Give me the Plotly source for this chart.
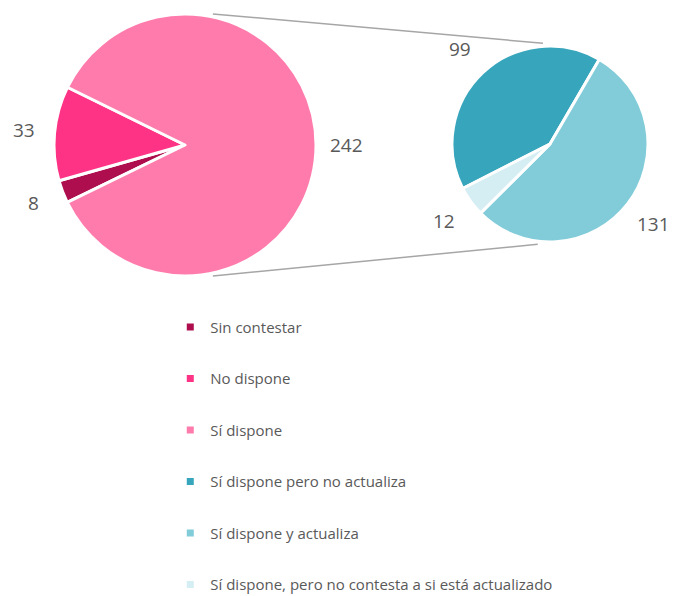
import math
import plotly.graph_objects as go

# ── Data ─────────────────────────────────────────────────────────────────────
main_labels = ["Sin contestar", "No dispone", "Sí dispone"]
main_values = [8, 33, 242]
main_colors = ["#AE0E4E", "#FF3385", "#FF7BAC"]

sub_labels = ["Sí dispone pero no actualiza", "Sí dispone y actualiza",
              "Sí dispone, pero no contesta a si está actualizado"]
sub_values = [99, 131, 12]
sub_colors = ["#37A6BC", "#82CCDA", "#D5EEF3"]

# ── Layout tokens ────────────────────────────────────────────────────────────
PAGE_W, PAGE_H = 675, 596
PAD = 8                      # page body margin around the plot div
W, H = PAGE_W - PAD, PAGE_H - PAD
FONT = "Open Sans, Liberation Sans, sans-serif"
LABEL_COLOR = "#595959"
LINE_COLOR = "#A6A6A6"

# pie placement in page pixels (cx, cy from top-left, radius)
LEFT = (185, 145, 131)
RIGHT = (550, 144, 98)
LEFT_ROT = 244      # clockwise from 12 o'clock
RIGHT_ROT = -117
LABEL_GAP = {"left": 31, "right": 33}


def to_paper(px, py):
    return (px - PAD) / W, 1 - (py - PAD) / H


def domain(cx, cy, r):
    x0, y1 = to_paper(cx - r, cy - r)
    x1, y0 = to_paper(cx + r, cy + r)
    return dict(x=[x0, x1], y=[y0, y1])


def rim(pie, ang, extra=0):
    cx, cy, r = pie
    a = math.radians(ang)
    return to_paper(cx + (r + extra) * math.cos(a), cy - (r + extra) * math.sin(a))


def value_labels(values, rot, pie, gap):
    """Value labels placed outside each slice along its mid-angle."""
    total = sum(values)
    out, cum = [], 0
    for v in values:
        phi = rot + (cum + v / 2) / total * 360
        x, y = rim(pie, 90 - phi, gap)
        out.append(dict(x=x, y=y, xref="paper", yref="paper", text=str(v),
                        showarrow=False, xanchor="center", yanchor="middle",
                        font=dict(size=19, color=LABEL_COLOR, family=FONT)))
        cum += v
    return out


fig = go.Figure()

fig.add_trace(go.Pie(
    labels=main_labels, values=main_values, sort=False,
    direction="clockwise", rotation=LEFT_ROT,
    marker=dict(colors=main_colors, line=dict(color="white", width=3)),
    textinfo="none", domain=domain(*LEFT), showlegend=False,
))

fig.add_trace(go.Pie(
    labels=sub_labels, values=sub_values, sort=False,
    direction="clockwise", rotation=RIGHT_ROT,
    marker=dict(colors=sub_colors, line=dict(color="white", width=3)),
    textinfo="none", domain=domain(*RIGHT), showlegend=False,
))

# legend entries (one group each so the rows can be spaced out)
for lab, col in zip(main_labels + sub_labels, main_colors + sub_colors):
    fig.add_trace(go.Scatter(
        x=[None], y=[None], mode="markers", name=lab, legendgroup=lab,
        marker=dict(symbol="square", size=7, color=col),
    ))

# connector lines between the two pies
shapes = []
for a_left, a_right in [(78, 94), (-78, -97)]:
    x0, y0 = rim(LEFT, a_left, 3)
    x1, y1 = rim(RIGHT, a_right, 3)
    shapes.append(dict(type="line", xref="paper", yref="paper",
                       x0=x0, y0=y0, x1=x1, y1=y1,
                       line=dict(color=LINE_COLOR, width=1.5), layer="below"))

annotations = (value_labels(main_values, LEFT_ROT, LEFT, LABEL_GAP["left"])
               + value_labels(sub_values, RIGHT_ROT, RIGHT, LABEL_GAP["right"]))

fig.update_layout(
    width=W, height=H,
    paper_bgcolor="white", plot_bgcolor="white",
    margin=dict(l=0, r=0, t=0, b=0, autoexpand=False),
    font=dict(family=FONT, color=LABEL_COLOR, size=15),
    xaxis=dict(visible=False), yaxis=dict(visible=False),
    shapes=shapes, annotations=annotations,
    legend=dict(x=0.2433, y=0.485, xanchor="left", yanchor="top",
                itemwidth=30, tracegroupgap=29,
                font=dict(size=15, color=LABEL_COLOR),
                bgcolor="rgba(0,0,0,0)"),
)

fig.write_html("out.html")
